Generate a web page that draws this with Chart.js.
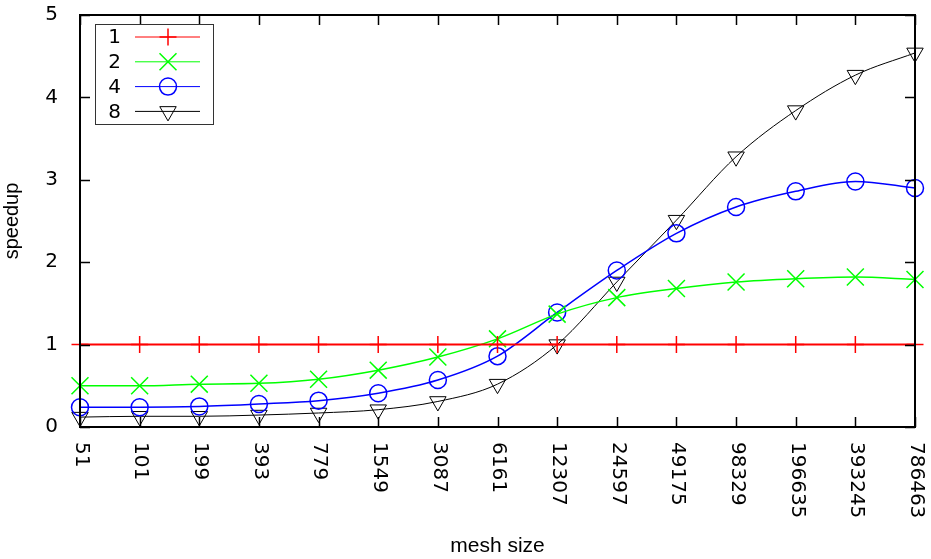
<!DOCTYPE html>
<html>
<head>
<meta charset="utf-8">
<script src="https://cdn.jsdelivr.net/npm/chart.js@4/dist/chart.umd.min.js"></script>
<style>
  html, body { margin: 0; padding: 0; background: #fff; }
  #wrap { width: 931px; height: 559px; }
</style>
</head>
<body>
<div id="wrap"><canvas id="chart" width="931" height="559"></canvas></div>
<script>
// Mesh sizes along the x axis
const meshSizes = ["51", "101", "199", "393", "779", "1549", "3087", "6161",
  "12307", "24597", "49175", "98329", "196635", "393245", "786463"];

// Speedup per number of processes
const speedup1 = [1, 1, 1, 1, 1, 1, 1, 1, 1, 1, 1, 1, 1, 1, 1];
const speedup2 = [0.50, 0.50, 0.52, 0.53, 0.58, 0.69, 0.85, 1.07, 1.37, 1.57, 1.68, 1.76, 1.80, 1.82, 1.79];
const speedup4 = [0.24, 0.24, 0.25, 0.28, 0.32, 0.41, 0.57, 0.86, 1.39, 1.90, 2.35, 2.67, 2.86, 2.98, 2.90];
const speedup8 = [0.12, 0.13, 0.13, 0.145, 0.17, 0.21, 0.31, 0.52, 1.00, 1.76, 2.51, 3.28, 3.84, 4.27, 4.54];

const yTicks = [0, 1, 2, 3, 4, 5];

const TICK_FONT = "20px 'DejaVu Sans'";
const TITLE_FAMILY = "'Liberation Sans', Arial, sans-serif";

// gnuplot style frame with inward ticks on all four sides
const framePlugin = {
  id: "frame",
  afterDatasetsDraw(chart) {
    const ctx = chart.ctx;
    const area = chart.chartArea;
    const xScale = chart.scales.x;
    const yScale = chart.scales.y;
    ctx.save();
    ctx.strokeStyle = "#000";
    ctx.lineWidth = 1.5;
    ctx.beginPath();
    meshSizes.forEach((m, i) => {
      const x = Math.round(xScale.getPixelForValue(i)) + 0.5;
      ctx.moveTo(x, area.bottom);
      ctx.lineTo(x, area.bottom - 10);
      ctx.moveTo(x, area.top);
      ctx.lineTo(x, area.top + 10);
    });
    yTicks.forEach((v) => {
      const y = Math.round(yScale.getPixelForValue(v)) + 0.5;
      ctx.moveTo(area.left, y);
      ctx.lineTo(area.left + 10, y);
      ctx.moveTo(area.right, y);
      ctx.lineTo(area.right - 10, y);
    });
    ctx.stroke();

    ctx.lineWidth = 2;
    ctx.strokeRect(area.left, area.top, area.right - area.left, area.bottom - area.top);

    // x labels read top to bottom, which the library cannot rotate that way
    ctx.fillStyle = "#000";
    ctx.font = TICK_FONT;
    ctx.textAlign = "left";
    ctx.textBaseline = "middle";
    meshSizes.forEach((m, i) => {
      const x = xScale.getPixelForValue(i);
      ctx.save();
      ctx.translate(x + 1, area.bottom + 15);
      ctx.rotate(Math.PI / 2);
      ctx.fillText(m, 0, 0);
      ctx.restore();
    });
    ctx.restore();
  }
};

// Legend box in the gnuplot way: label, then line with the marker in the middle
const keyPlugin = {
  id: "key",
  afterDraw(chart) {
    const ctx = chart.ctx;
    const box = { left: 95, top: 24, right: 213, bottom: 124 };
    ctx.save();
    ctx.fillStyle = "#fff";
    ctx.fillRect(box.left, box.top, box.right - box.left, box.bottom - box.top);
    ctx.strokeStyle = "#333";
    ctx.lineWidth = 1;
    ctx.strokeRect(box.left + 0.5, box.top + 0.5, box.right - box.left, box.bottom - box.top);

    chart.data.datasets.forEach((ds, i) => {
      const y = 37 + i * 24.8;
      ctx.fillStyle = "#000";
      ctx.font = TICK_FONT;
      ctx.textAlign = "right";
      ctx.textBaseline = "middle";
      ctx.fillText(ds.label, 121, y + 1);

      ctx.strokeStyle = ds.borderColor;
      ctx.lineWidth = 1;
      ctx.beginPath();
      ctx.moveTo(135, y);
      ctx.lineTo(200, y);
      ctx.stroke();

      ctx.lineWidth = ds.pointBorderWidth;
      ctx.fillStyle = "rgba(0,0,0,0)";
      Chart.helpers.drawPoint(ctx, {
        pointStyle: ds.pointStyle,
        radius: ds.pointRadius,
        rotation: ds.pointRotation || 0,
        borderWidth: ds.pointBorderWidth
      }, 168, y);
    });
    ctx.restore();
  }
};

new Chart(document.getElementById("chart"), {
  type: "line",
  data: {
    labels: meshSizes,
    datasets: [
      {
        label: "1", data: speedup1,
        borderColor: "#ff0000", borderWidth: 2,
        pointStyle: "cross", pointRadius: 8.5, pointBorderWidth: 1.5,
        pointBorderColor: "#ff0000", pointBackgroundColor: "rgba(0,0,0,0)",
        tension: 0, clip: false
      },
      {
        label: "2", data: speedup2,
        borderColor: "#00ff00", borderWidth: 1.5,
        pointStyle: "crossRot", pointRadius: 12, pointBorderWidth: 1.5,
        pointBorderColor: "#00ff00", pointBackgroundColor: "rgba(0,0,0,0)",
        cubicInterpolationMode: "monotone", clip: false
      },
      {
        label: "4", data: speedup4,
        borderColor: "#0000ff", borderWidth: 1.5,
        pointStyle: "circle", pointRadius: 8.5, pointBorderWidth: 1.5,
        pointBorderColor: "#0000ff", pointBackgroundColor: "rgba(0,0,0,0)",
        cubicInterpolationMode: "monotone", clip: false
      },
      {
        label: "8", data: speedup8,
        borderColor: "#000000", borderWidth: 1,
        pointStyle: "triangle", pointRotation: 180, pointRadius: 9.5, pointBorderWidth: 1,
        pointBorderColor: "#000000", pointBackgroundColor: "rgba(0,0,0,0)",
        cubicInterpolationMode: "monotone", clip: false
      }
    ]
  },
  options: {
    responsive: false,
    animation: false,
    layout: { padding: { top: 15, right: 16, left: 0, bottom: 0 } },
    plugins: {
      legend: { display: false },
      tooltip: { enabled: false }
    },
    scales: {
      x: {
        type: "category",
        offset: false,
        grid: { display: false },
        border: { display: false },
        ticks: { display: false },
        title: { display: true, text: "mesh size", color: "#000", font: { family: TITLE_FAMILY, size: 21 }, padding: 0 },
        afterFit(scale) {
          scale.height = 132;
          scale.paddingLeft = 0;
          scale.paddingRight = 0;
        }
      },
      y: {
        min: 0, max: 5,
        grid: { display: false },
        border: { display: false },
        ticks: {
          stepSize: 1, padding: 14, color: "#000",
          font: { family: "'DejaVu Sans'", size: 20 }
        },
        title: { display: true, text: "speedup", color: "#000", font: { family: TITLE_FAMILY, size: 20 }, padding: { top: 0, bottom: 0 } },
        afterFit(scale) {
          scale.width = 80;
          // keep the half-label padding from pushing the plot area down
          scale.paddingTop = 0;
          scale.paddingBottom = 0;
        }
      }
    }
  },
  plugins: [framePlugin, keyPlugin]
});
</script>
</body>
</html>
